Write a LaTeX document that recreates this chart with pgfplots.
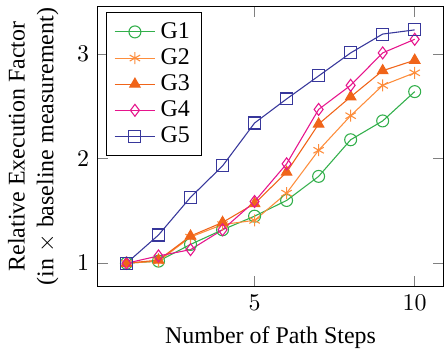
\documentclass[border=0pt]{standalone}
\usepackage{pgfplots}
\pgfplotsset{compat=1.18}
\usepackage{fontspec}
\setmainfont{Liberation Serif}
\definecolor{cG1}{RGB}{50,175,75}
\definecolor{cG2}{RGB}{253,141,60}
\definecolor{cG3}{RGB}{240,100,25}
\definecolor{cG4}{RGB}{230,20,140}
\definecolor{cG5}{RGB}{55,55,155}
\begin{document}
\begin{tikzpicture}
\begin{axis}[
  scale only axis,
  width=144.5pt, height=117pt,
  xtick={5,10}, ytick={1,2,3},
  xlabel={Number of Path Steps},
  ylabel={Relative Execution Factor\\(in $\times$ baseline measurement)},
  ylabel style={align=center, yshift=1pt},
  legend style={at={(0.025,0.98)}, anchor=north west, font=\normalsize, row sep=-1.2pt},
  legend cell align=left,
  every axis plot/.append style={mark size=2.5pt, line width=0.45pt},
]
\addplot[color=cG1, mark=o] coordinates {(1,1.0)(2,1.02)(3,1.18)(4,1.32)(5,1.45)(6,1.60)(7,1.83)(8,2.18)(9,2.36)(10,2.64)};
\addlegendentry{G1}
\addplot[color=cG2, mark=asterisk] coordinates {(1,1.0)(2,1.02)(3,1.25)(4,1.37)(5,1.41)(6,1.67)(7,2.08)(8,2.41)(9,2.70)(10,2.82)};
\addlegendentry{G2}
\addplot[color=cG3, mark=triangle*] coordinates {(1,1.0)(2,1.03)(3,1.26)(4,1.39)(5,1.57)(6,1.87)(7,2.33)(8,2.59)(9,2.84)(10,2.94)};
\addlegendentry{G3}
\addplot[color=cG4, mark=diamond] coordinates {(1,1.0)(2,1.07)(3,1.13)(4,1.32)(5,1.59)(6,1.95)(7,2.47)(8,2.70)(9,3.01)(10,3.14)};
\addlegendentry{G4}
\addplot[color=cG5, mark=square] coordinates {(1,1.0)(2,1.27)(3,1.63)(4,1.93)(5,2.34)(6,2.57)(7,2.79)(8,3.01)(9,3.19)(10,3.23)};
\addlegendentry{G5}
\end{axis}
\end{tikzpicture}
\end{document}
